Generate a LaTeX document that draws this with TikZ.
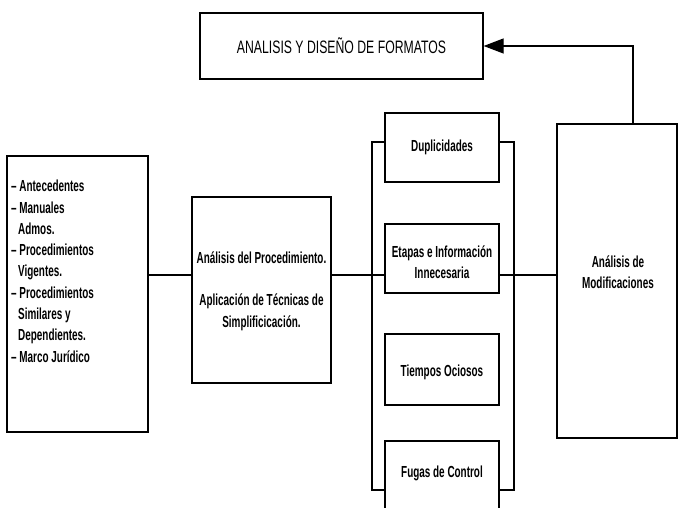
\documentclass[tikz,border=0pt]{standalone}
\usepackage{fontspec}
\newfontfamily\diagfont[FakeStretch=0.62]{Liberation Sans}
\newfontfamily\titlefont[FakeStretch=0.68]{Liberation Sans}
\usetikzlibrary{positioning, shapes, arrows.meta, calc}

\begin{document}
\begin{tikzpicture}[
    x=1pt, y=-1pt,
    % Styles
    caja/.style={ % Plain process box
        rectangle,
        draw,
        fill=white,
        line width=1.3pt,
        inner sep=0pt
    },
    texto/.style={ % Box text
        font=\diagfont\bfseries\fontsize{16}{21.3}\selectfont,
        align=center,
        inner sep=0pt
    },
    linea/.style={
        line width=1.3pt
    },
    flecha/.style={ % Feedback arrow
        linea,
        -{Triangle[length=20pt, width=15pt]}
    }
]
    \useasboundingbox (0,0) rectangle (678,508);

    % Bracket around the problem boxes (drawn first, boxes cover it)
    \draw[linea] (372,142) rectangle (514,490);

    % Boxes
    \node[caja, minimum width=283, minimum height=66,
          font=\titlefont\fontsize{18}{20}\selectfont] (formatos) at (341.5,46)
          {ANALISIS Y DISEÑO DE FORMATOS};
    \node[caja, minimum width=141, minimum height=276] (lista) at (77.5,294) {};
    \node[caja, minimum width=139, minimum height=186] (proc) at (261.5,290) {};
    \node[caja, minimum width=114, minimum height=69] (dup) at (442,147.5) {};
    \node[caja, minimum width=114, minimum height=69] (etapas) at (442,258.5) {};
    \node[caja, minimum width=114, minimum height=71] (tiempos) at (442,369.5) {};
    \node[caja, minimum width=114, minimum height=70] (fugas) at (442,476) {};
    \node[caja, minimum width=120, minimum height=314] (mod) at (617,281) {};

    % Texts
    \node[texto, align=left, anchor=north west] (listatxt) at (11,180)
        {– Antecedentes\\– Manuales\\\hspace*{7pt}Admos.\\– Procedimientos\\\hspace*{7pt}Vigentes.\\– Procedimientos\\\hspace*{7pt}Similares y\\\hspace*{7pt}Dependientes.\\– Marco Jurídico};
    \node[texto] (proctxt) at (261.5,291)
        {Análisis del Procedimiento.\\[21.3pt]Aplicación de Técnicas de\\Simplificicación.};
    \node[texto] (duptxt) at (dup) {Duplicidades};
    \node[texto] (etapastxt) at (442,262) {Etapas e Información\\Innecesaria};
    \node[texto] (tiempostxt) at (442,372) {Tiempos Ociosos};
    \node[texto] (fugastxt) at (442,473) {Fugas de Control};
    \node[texto] (modtxt) at (618,272) {Análisis de\\Modificaciones};

    % Connectors
    \coordinate (nivel) at (0,275);
    \coordinate (codo) at (633,46);
    \draw[linea] (lista.east |- nivel) -- (proc.west |- nivel);
    \draw[linea] (proc.east |- nivel) -- (etapas.west |- nivel);
    \draw[linea] (etapas.east |- nivel) -- (mod.west |- nivel);
    \draw[flecha] (mod.north -| codo) -- (codo) -- (formatos.east);
\end{tikzpicture}
\end{document}
